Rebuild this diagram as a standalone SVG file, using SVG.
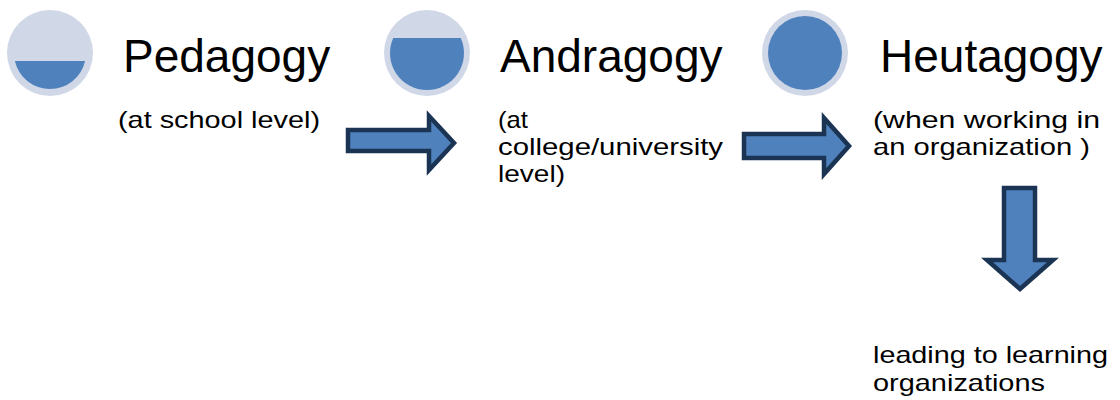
<svg xmlns="http://www.w3.org/2000/svg" width="1120" height="400" viewBox="0 0 1120 400">
<style>
.bg{fill:#d0d8e8}
.fill{fill:#4f81bd}
.title{font-family:"Liberation Sans",Arial,sans-serif;font-size:46px;fill:#000}
.sub{font-family:"Liberation Sans",Arial,sans-serif;font-size:24px;fill:#000}
.arrow{fill:#4f81bd;stroke:#1b3454;stroke-width:4.5;stroke-linejoin:miter}
</style>
<rect width="1120" height="400" fill="#fff"/>
<g id="pedagogy">
<circle class="bg" cx="50" cy="53" r="43"/>
<path class="fill" d="M14.9,61 H85.1 A36,36 0 0 1 14.9,61 Z"/>
<text class="title" x="123" y="72">Pedagogy</text>
<text class="sub" x="118" y="128" textLength="202" lengthAdjust="spacingAndGlyphs">(at school level)</text>
</g>
<g id="andragogy">
<circle class="bg" cx="427" cy="53" r="43"/>
<path class="fill" d="M393.2,38 H460.8 A37,37 0 1 1 393.2,38 Z"/>
<text class="title" x="500" y="72">Andragogy</text>
<text class="sub" x="498" y="128" textLength="30" lengthAdjust="spacingAndGlyphs">(at</text>
<text class="sub" x="498" y="155" textLength="225" lengthAdjust="spacingAndGlyphs">college/university</text>
<text class="sub" x="498" y="182" textLength="67" lengthAdjust="spacingAndGlyphs">level)</text>
</g>
<g id="heutagogy">
<circle class="bg" cx="805" cy="53" r="43"/>
<circle class="fill" cx="805" cy="53" r="37"/>
<text class="title" x="880" y="72">Heutagogy</text>
<text class="sub" x="873" y="128" textLength="227" lengthAdjust="spacingAndGlyphs">(when working in</text>
<text class="sub" x="873" y="155" textLength="217" lengthAdjust="spacingAndGlyphs">an organization )</text>
</g>
<g id="learning-organizations">
<text class="sub" x="873" y="363" textLength="235" lengthAdjust="spacingAndGlyphs">leading to learning</text>
<text class="sub" x="873" y="391" textLength="172" lengthAdjust="spacingAndGlyphs">organizations</text>
</g>
<g id="connectors">
<path class="arrow" d="M348,130 H429 V116 L454,143 L429,170 V151 H348 Z"/>
<path class="arrow" d="M744,134 H824 V118 L849,146 L824,174 V158 H744 Z"/>
<path class="arrow" d="M1004,188 H1035 V260 H1053 L1020,289 L987,260 H1004 Z"/>
</g>
</svg>
